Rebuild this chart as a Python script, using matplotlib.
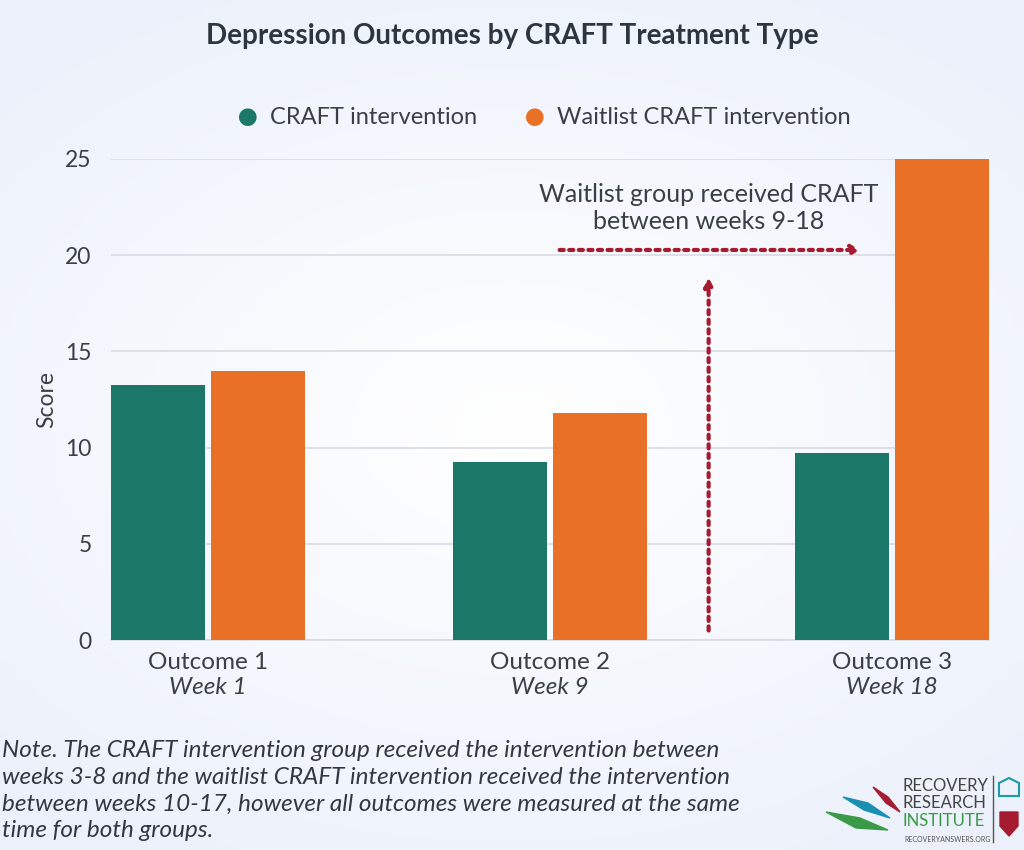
import numpy as np
import matplotlib.pyplot as plt
from matplotlib.patches import Polygon

categories = ['Outcome 1', 'Outcome 2', 'Outcome 3']
weeks = ['Week 1', 'Week 9', 'Week 18']
series_names = ['CRAFT intervention', 'Waitlist CRAFT intervention']
craft = [13.25, 9.25, 9.7]
waitlist = [14.0, 11.8, 25.0]
y_ticks = [0, 5, 10, 15, 20, 25]

GREEN = '#1b7868'
ORANGE = '#e87127'
CRIMSON = '#a51c30'
TEXT = '#3a3f47'

plt.rcParams['font.family'] = ['Lato', 'DejaVu Sans']

fig = plt.figure(figsize=(10.24, 8.5), dpi=100)

# soft background gradient
bg = fig.add_axes([0, 0, 1, 1], zorder=-10)
gx, gy = np.meshgrid(np.linspace(-1, 1, 200), np.linspace(-1, 1, 200))
r = np.clip(np.sqrt((gx * 0.9) ** 2 + (gy * 1.1) ** 2), 0, 1.3)
c0 = np.array([1.0, 1.0, 1.0])
c1 = np.array([0.925, 0.945, 0.985])
img = c0 + (c1 - c0) * (r / 1.3)[..., None]
bg.imshow(img, extent=[0, 1, 0, 1], aspect='auto')
bg.axis('off')

ax = fig.add_axes([0.1084, 0.247, 0.8574, 0.566])
ax.patch.set_alpha(0)
x = np.arange(len(categories))
w = 0.275
off = 0.146
ax.bar(x - off, craft, w, color=GREEN, zorder=3)
ax.bar(x + off, waitlist, w, color=ORANGE, zorder=3)

ax.set_xlim(-0.284, 2.284)
ax.set_ylim(0, 25)
ax.set_yticks(y_ticks)
ax.grid(axis='y', color='#d8dbe2', linewidth=1.2, zorder=0)
for s in ['top', 'right', 'left']:
    ax.spines[s].set_visible(False)
ax.spines['bottom'].set_color('#d8dbe2')
ax.spines['bottom'].set_linewidth(1.2)
ax.tick_params(axis='both', length=0, labelsize=16.5, colors=TEXT)
ax.tick_params(axis='y', pad=14)
ax.set_xticks(x)
ax.set_xticklabels([])
for xi, cat, wk in zip(x, categories, weeks):
    ax.text(xi, -1.15, cat, ha='center', va='center', fontsize=17.5, color=TEXT)
    ax.text(xi, -2.45, wk, ha='center', va='center', fontsize=17.5,
            style='italic', color=TEXT)
ax.set_ylabel('Score', fontsize=16.5, color=TEXT, labelpad=6)

# annotation arrows
ax.annotate('', xy=(1.915, 20.27), xytext=(1.02, 20.27),
            arrowprops=dict(arrowstyle='->,head_length=0.5,head_width=0.3',
                            color=CRIMSON, lw=3, linestyle=(0, (1, 1.3))))
ax.annotate('', xy=(1.464, 19.0), xytext=(1.464, 0.35),
            arrowprops=dict(arrowstyle='-|>,head_length=0.5,head_width=0.25',
                            color=CRIMSON, lw=3, linestyle=(0, (1, 1.3))))
ax.text(1.464, 22.45, 'Waitlist group received CRAFT\nbetween weeks 9-18',
        ha='center', va='center', fontsize=18, color=TEXT, linespacing=1.2)

fig.text(0.5, 0.958, 'Depression Outcomes by CRAFT Treatment Type',
         ha='center', va='center', fontsize=20, fontweight='bold', color='#2d3540')

# legend
for lx, name, col in [(0.242, series_names[0], GREEN), (0.522, series_names[1], ORANGE)]:
    fig.text(lx, 0.862, '\u25CF', ha='center', va='center', fontsize=26, color=col)
    fig.text(lx + 0.022, 0.862, name, ha='left', va='center', fontsize=17, color=TEXT)

note = ('Note. The CRAFT intervention group received the intervention between\n'
        'weeks 3-8 and the waitlist CRAFT intervention received the intervention\n'
        'between weeks 10-17, however all outcomes were measured at the same\n'
        'time for both groups.')
fig.text(0.002, 0.070, note, ha='left', va='center', fontsize=17.5, style='italic',
         color='#333840', linespacing=1.34)

# logo
lg = fig.add_axes([780 / 1024, 0.0, 244 / 1024, 0.1])
lg.set_xlim(780, 1024)
lg.set_ylim(850, 765)
lg.axis('off')
lg.add_patch(Polygon([[873, 787], [888, 797], [900, 812], [886, 803]], closed=True, color='#a51c30'))
lg.add_patch(Polygon([[843, 797], [868, 803], [890, 818], [864, 810]], closed=True, color='#1b8fb3'))
lg.add_patch(Polygon([[826, 812], [860, 818], [888, 830], [856, 828]], closed=True, color='#3a9a48'))
lg.text(903, 786, 'RECOVERY', fontsize=12, color='#444', va='center')
lg.text(903, 803, 'RESEARCH', fontsize=12, color='#444', va='center')
lg.text(903, 821, 'INSTITUTE', fontsize=12, color='#3a9a48', va='center')
lg.text(904, 840, 'RECOVERYANSWERS.ORG', fontsize=5, color='#555', va='center')
lg.plot([993, 993], [776, 842], color='#555', lw=1)
lg.add_patch(Polygon([[999, 783], [1009, 778], [1019, 783], [1019, 796], [999, 796]], closed=True,
                     fc='none', ec='#1c9aa6', lw=1.5))
lg.add_patch(Polygon([[1000, 812], [1018, 812], [1018, 826], [1009, 836], [1000, 826]], closed=True,
                     color='#a51c30'))

fig.savefig('out.png', dpi=100)
